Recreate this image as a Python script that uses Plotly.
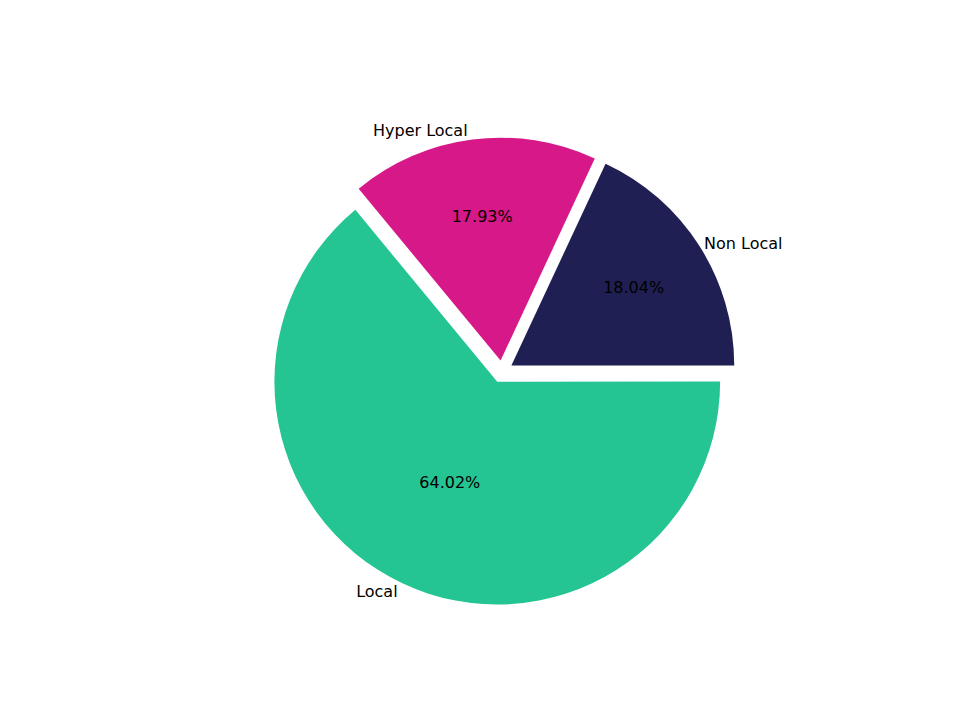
import plotly.graph_objects as go

labels = ["Non Local", "Hyper Local", "Local"]
values = [18.04, 17.93, 64.02]
colors = ["#1f1f53", "#d71889", "#25c493"]
pull = [0.05, 0.05, 0.05]

dom = dict(x=[0.19, 0.85], y=[0.17, 0.82])
common = dict(labels=labels, values=values, sort=False, direction="counterclockwise",
              rotation=25, pull=pull, domain=dom, showlegend=False, hoverinfo="skip")
fig = go.Figure()
fig.add_trace(go.Pie(**common, marker=dict(colors=colors, line=dict(width=0)),
                     texttemplate="%{value:.2f}%", textposition="inside", insidetextorientation="horizontal",
                     textfont=dict(color="black", size=16, family="DejaVu Sans")))
fig.add_trace(go.Pie(**common, marker=dict(colors=["rgba(0,0,0,0)"]*3, line=dict(width=0)),
                     textinfo="label", textposition="outside",
                     textfont=dict(color="black", size=16, family="DejaVu Sans")))
fig.update_layout(width=960, height=720, margin=dict(l=0, r=0, t=0, b=0),
                  paper_bgcolor="white", plot_bgcolor="white")
fig.write_html("out.html")
